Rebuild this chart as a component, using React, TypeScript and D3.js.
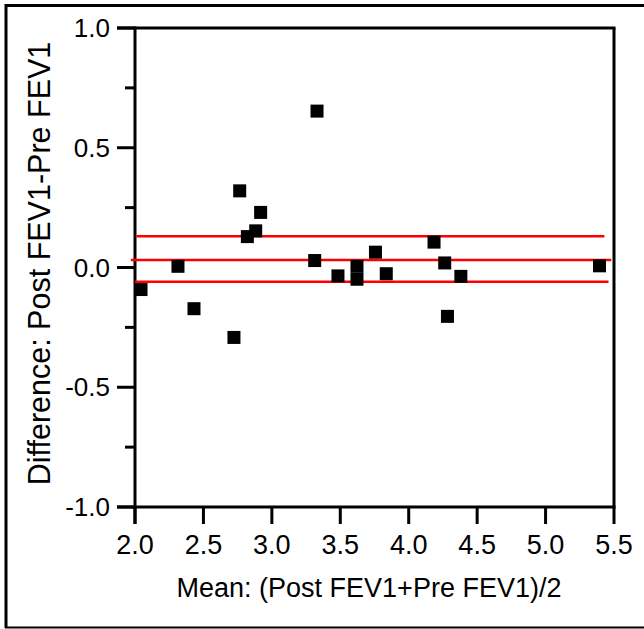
import React from "react";
import * as d3 from "d3";

const meanValues = [2.044, 2.314, 2.431, 2.723, 2.765, 2.821, 2.882, 2.918, 3.33, 3.313, 3.483, 3.622, 3.622, 3.757, 3.836, 4.185, 4.263, 4.283, 4.381, 5.394];
const diffValues = [-0.092, 0.005, -0.172, -0.292, 0.32, 0.129, 0.153, 0.23, 0.653, 0.029, -0.035, 0.005, -0.049, 0.064, -0.026, 0.106, 0.019, -0.204, -0.037, 0.007];

const refLevels = [0.13, 0.031, -0.059];
const refStarts = [2.01, 1.97, 2.0];
const refEnds = [5.43, 5.48, 5.46];

const xTicks = [2.0, 2.5, 3.0, 3.5, 4.0, 4.5, 5.0, 5.5];
const yMajorTicks = [1.0, 0.5, 0.0, -0.5, -1.0];
const yMinorTicks = [0.75, 0.25, -0.25, -0.75];

const xTitle = "Mean: (Post FEV1+Pre FEV1)/2";
const yTitle = "Difference: Post FEV1-Pre FEV1";

const fmt = (v: number) => d3.format(".1f")(v).replace("\u2212", "-");

export default function App() {
  const W = 644, H = 629;
  const left = 135, right = 614, top = 28, bottom = 507;
  const x = d3.scaleLinear().domain([2.0, 5.5]).range([left, right]);
  const y = d3.scaleLinear().domain([-1.0, 1.0]).range([bottom, top]);
  const font = "Liberation Sans, Arial, Helvetica, sans-serif";
  const sq = 13;
  return (
    <svg width={W} height={H} style={{ position: "absolute", left: 0, top: 0, background: "#fff" }}>
      {/* outer frame */}
      <line x1={6} x2={W} y1={5.5} y2={5.5} stroke="#000" strokeWidth={3} />
      <line x1={6} x2={6} y1={4} y2={628} stroke="#000" strokeWidth={3} />
      <line x1={5} x2={W} y1={627.5} y2={627.5} stroke="#000" strokeWidth={2} />

      {/* plot frame */}
      <line x1={x(2.0) - 18} x2={right + 1.5} y1={top} y2={top} stroke="#000" strokeWidth={3} />
      <line x1={right} x2={right} y1={top} y2={bottom} stroke="#000" strokeWidth={3} />
      <line x1={left} x2={left} y1={top - 1.5} y2={bottom + 17} stroke="#000" strokeWidth={3} />
      <line x1={left - 18} x2={right + 1.5} y1={bottom} y2={bottom} stroke="#000" strokeWidth={3} />

      {/* y ticks */}
      {yMajorTicks.map((t) => (
        <g key={"ym" + t}>
          <line x1={left - 18} x2={left} y1={y(t)} y2={y(t)} stroke="#000" strokeWidth={3} />
          <text x={110} y={y(t) + 9} textAnchor="end" fontFamily={font} fontSize={26} fill="#000">
            {fmt(t)}
          </text>
        </g>
      ))}
      {yMinorTicks.map((t) => (
        <line key={"yn" + t} x1={left - 10} x2={left} y1={y(t)} y2={y(t)} stroke="#000" strokeWidth={3} />
      ))}

      {/* x ticks */}
      {xTicks.map((t) => (
        <g key={"x" + t}>
          <line x1={x(t)} x2={x(t)} y1={bottom} y2={bottom + 17} stroke="#000" strokeWidth={3} />
          <text x={x(t)} y={554} textAnchor="middle" fontFamily={font} fontSize={27} fill="#000">
            {fmt(t)}
          </text>
        </g>
      ))}

      {/* reference lines */}
      {refLevels.map((v, i) => (
        <line key={"r" + i} x1={x(refStarts[i])} x2={x(refEnds[i])} y1={y(v)} y2={y(v)} stroke="#f00" strokeWidth={2.5} />
      ))}

      {/* points */}
      {meanValues.map((m, i) => (
        <rect key={"p" + i} x={x(m) - sq / 2} y={y(diffValues[i]) - sq / 2} width={sq} height={sq} fill="#000" />
      ))}

      {/* titles */}
      <text x={369} y={597} textAnchor="middle" fontFamily={font} fontSize={27} fill="#000">
        {xTitle}
      </text>
      <text transform={`translate(50, 263.5) rotate(-90)`} textAnchor="middle" fontFamily={font} fontSize={30.5} fill="#000">
        {yTitle}
      </text>
    </svg>
  );
}
